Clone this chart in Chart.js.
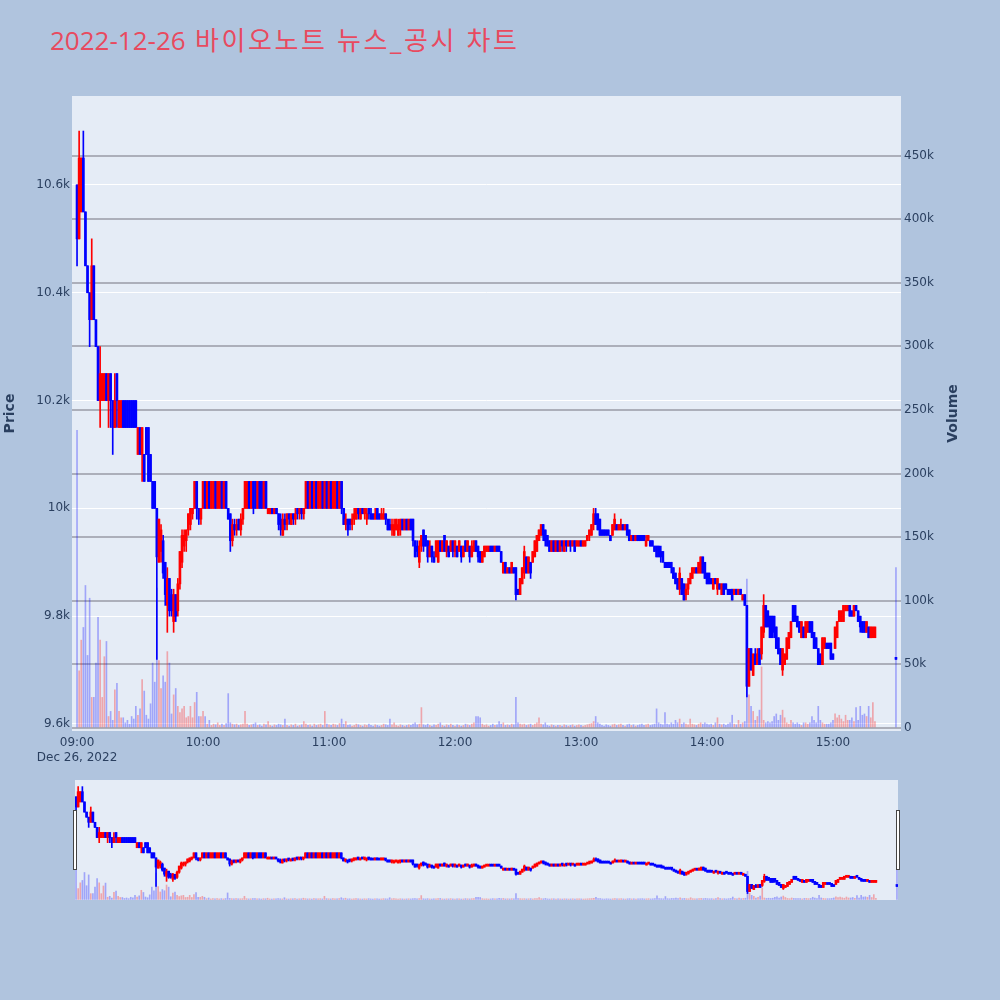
<!DOCTYPE html>
<html lang="ko">
<head>
    <meta charset="UTF-8">
    <meta name="viewport" content="width=device-width, initial-scale=1.0">
    <title>2022-12-26 바이오노트 뉴스_공시 차트</title>
    <script src="https://cdn.jsdelivr.net/npm/chart.js"></script>
    <style>
        body { margin: 0; background: #b0c4de; width: 1000px; height: 1000px; position: relative; overflow: hidden; }
        #title { position: absolute; left: 50px; top: 25px; line-height: 30px; font-size: 26px; font-family: "Open Sans", "Noto Sans CJK KR", sans-serif; color: #e84a5f; white-space: nowrap; }
        #title .ko { letter-spacing: 2.6px; }
        #main { position: absolute; left: 0; top: 0; }
        #slider { position: absolute; left: 75px; top: 780px; }
        .grab { position: absolute; top: 810px; width: 2px; height: 58px; background: #fff; border: 1px solid #444; }
    </style>
</head>
<body>
    <div id="title">2022-12-26<span class="ko"> 바이오노트 뉴스_공시 차트</span></div>
    <canvas id="main" width="1000" height="770"></canvas>
    <canvas id="slider" width="823" height="120"></canvas>
    <div class="grab" style="left:73px"></div>
    <div class="grab" style="left:896px"></div>
<script>
    // one candle per minute from 09:00, last entry is the 15:30 closing auction
    const openP = [
        10600,10500,10550,10650,10550,10450,10400,10350,10450,10350,
        10300,10200,10200,10200,10250,10200,10250,10200,10150,10250,
        10150,10150,10200,10200,10200,10200,10200,10200,10200,10100,
        10150,10100,10100,10150,10150,10100,10050,10050,10000,9900,
        9920,9940,9900,9820,9870,9840,9790,9840,9810,9860,
        9900,9930,9940,9960,9970,9990,10000,10050,10000,9980,
        10000,10050,10000,10050,10000,10000,10050,10000,10000,10050,
        10000,10050,10000,9990,9940,9970,9960,9980,9960,9980,
        10000,10000,10050,10000,10050,10050,10000,10050,10050,10000,
        10050,9990,9990,10000,9990,10000,9990,9980,9950,9980,
        9970,9990,9970,9990,9980,10000,9990,10000,9990,10000,
        10050,10000,10050,10000,10050,10000,10000,10050,10000,10050,
        10000,10050,10000,10000,10050,10000,10050,10000,9970,9980,
        9980,9970,9980,9980,10000,9980,10000,9990,9980,10000,
        9990,9990,9980,10000,9990,9980,9980,9990,9980,9970,
        9960,9950,9960,9950,9960,9980,9960,9980,9960,9980,
        9980,9940,9930,9900,9930,9960,9950,9940,9910,9930,
        9910,9910,9900,9940,9920,9950,9920,9930,9920,9940,
        9920,9930,9920,9930,9910,9940,9920,9930,9910,9920,
        9940,9930,9920,9900,9910,9920,9920,9930,9930,9920,
        9930,9930,9920,9880,9900,9880,9890,9880,9890,9890,
        9850,9840,9860,9880,9910,9880,9900,9900,9910,9920,
        9940,9950,9970,9960,9950,9940,9920,9940,9920,9940,
        9920,9940,9920,9940,9930,9940,9930,9940,9930,9930,
        9940,9930,9930,9940,9950,9950,9970,9990,9990,9980,
        9960,9960,9960,9960,9950,9950,9960,9970,9960,9960,
        9970,9960,9970,9960,9940,9950,9940,9950,9950,9950,
        9950,9930,9940,9940,9940,9930,9930,9930,9920,9920,
        9900,9900,9900,9900,9890,9880,9870,9850,9870,9860,
        9840,9850,9860,9870,9880,9890,9880,9880,9910,9900,
        9880,9880,9870,9850,9870,9850,9860,9840,9860,9860,
        9850,9850,9850,9840,9850,9840,9850,9830,9840,9820,
        9670,9740,9690,9730,9710,9740,9730,9770,9820,9810,
        9800,9800,9800,9780,9760,9740,9700,9710,9720,9740,
        9760,9820,9820,9800,9790,9760,9780,9760,9770,9790,
        9790,9770,9760,9740,9730,9710,9740,9750,9750,9750,
        9730,9740,9760,9790,9790,9790,9810,9810,9820,9810,
        9800,9820,9810,9800,9790,9790,9770,9780,9760,9760,
        9760, 9720
    ];
    const highP = [
        10600,10700,10650,10700,10550,10450,10400,10500,10450,10350,
        10300,10300,10250,10250,10250,10250,10250,10200,10250,10250,
        10200,10200,10200,10200,10200,10200,10200,10200,10200,10150,
        10150,10150,10100,10150,10150,10100,10050,10050,10000,9980,
        9970,9950,9900,9890,9870,9850,9850,9840,9870,9920,
        9960,9960,9960,9990,10000,10000,10050,10050,10000,10000,
        10050,10050,10050,10050,10050,10050,10050,10050,10050,10050,
        10050,10050,10000,9990,9980,9980,9980,9980,9990,10000,
        10050,10050,10050,10050,10050,10050,10050,10050,10050,10050,
        10050,10000,10000,10000,10000,10000,9990,9990,9990,9990,
        9990,9990,9990,9990,10000,10000,10000,10000,10000,10050,
        10050,10050,10050,10050,10050,10050,10050,10050,10050,10050,
        10050,10050,10050,10050,10050,10050,10050,10000,9990,9980,
        9980,9990,10000,10000,10000,10000,10000,10000,10000,10000,
        10000,9990,10000,10000,9990,10000,10000,9990,9980,9980,
        9980,9980,9980,9980,9980,9980,9980,9980,9980,9980,
        9980,9940,9940,9940,9950,9960,9950,9940,9940,9930,
        9920,9940,9940,9940,9940,9950,9940,9930,9940,9940,
        9940,9930,9940,9930,9930,9940,9940,9930,9940,9940,
        9940,9930,9920,9920,9930,9930,9930,9930,9930,9930,
        9930,9930,9920,9900,9900,9890,9890,9900,9890,9890,
        9850,9870,9890,9930,9910,9910,9900,9920,9940,9950,
        9960,9970,9970,9960,9950,9940,9940,9940,9940,9940,
        9940,9940,9940,9940,9940,9940,9940,9940,9940,9940,
        9940,9940,9940,9950,9960,9970,10000,10000,9990,9980,
        9960,9960,9960,9960,9950,9970,9990,9970,9970,9980,
        9970,9970,9970,9960,9950,9950,9950,9950,9950,9950,
        9950,9950,9950,9940,9940,9930,9930,9930,9930,9920,
        9900,9900,9900,9900,9890,9880,9870,9890,9870,9860,
        9860,9870,9880,9890,9890,9890,9900,9910,9910,9900,
        9880,9880,9870,9870,9870,9870,9860,9860,9860,9860,
        9850,9850,9850,9850,9850,9850,9850,9840,9840,9820,
        9740,9740,9730,9740,9740,9740,9780,9840,9820,9810,
        9800,9800,9800,9780,9760,9740,9740,9730,9760,9770,
        9790,9820,9820,9800,9790,9790,9780,9790,9790,9790,
        9790,9770,9760,9740,9730,9760,9760,9750,9750,9750,
        9730,9780,9790,9810,9810,9820,9820,9820,9820,9810,
        9820,9820,9810,9800,9790,9790,9790,9780,9780,9780,
        9780, 9720
    ];
    const lowP = [
        10450,10500,10550,10550,10450,10400,10300,10350,10350,10300,
        10200,10150,10200,10200,10200,10150,10150,10100,10150,10150,
        10150,10150,10150,10150,10150,10150,10150,10150,10150,10100,
        10100,10050,10050,10100,10050,10050,10000,10000,9720,9900,
        9900,9870,9820,9770,9800,9800,9770,9790,9800,9850,
        9890,9920,9920,9950,9960,9980,10000,9980,9970,9970,
        10000,10000,10000,10000,10000,10000,10000,10000,10000,10000,
        10000,10000,9980,9920,9930,9950,9950,9960,9950,9970,
        10000,10000,10000,10000,9990,10000,10000,10000,10000,10000,
        10000,9990,9990,9990,9990,9990,9960,9950,9950,9960,
        9960,9970,9970,9970,9970,9980,9980,9980,9980,10000,
        10000,10000,10000,10000,10000,10000,10000,10000,10000,10000,
        10000,10000,10000,10000,10000,10000,9990,9970,9960,9950,
        9960,9960,9970,9980,9980,9980,9990,9980,9970,9980,
        9980,9980,9980,9980,9980,9980,9980,9970,9960,9960,
        9950,9950,9960,9950,9950,9960,9960,9960,9960,9960,
        9930,9910,9910,9890,9920,9920,9930,9900,9910,9900,
        9900,9910,9900,9920,9920,9920,9910,9910,9920,9910,
        9910,9910,9920,9900,9910,9920,9920,9900,9910,9920,
        9920,9900,9900,9900,9910,9920,9920,9920,9920,9920,
        9920,9920,9900,9880,9880,9880,9880,9880,9880,9830,
        9840,9840,9860,9870,9880,9880,9870,9900,9910,9920,
        9940,9950,9940,9930,9930,9920,9920,9920,9920,9920,
        9920,9920,9920,9920,9930,9920,9930,9920,9930,9930,
        9930,9930,9930,9940,9940,9950,9960,9970,9960,9950,
        9950,9950,9950,9950,9940,9950,9960,9960,9960,9960,
        9960,9960,9950,9940,9940,9940,9940,9940,9940,9940,
        9940,9930,9940,9930,9930,9920,9910,9910,9900,9900,
        9890,9890,9890,9880,9870,9860,9850,9840,9840,9830,
        9830,9840,9860,9870,9880,9880,9880,9880,9880,9870,
        9860,9860,9860,9850,9860,9840,9850,9840,9840,9850,
        9840,9840,9830,9840,9840,9840,9840,9830,9820,9650,
        9670,9700,9690,9710,9710,9710,9720,9760,9780,9780,
        9760,9760,9760,9740,9730,9710,9690,9710,9720,9740,
        9760,9790,9790,9780,9770,9760,9760,9760,9770,9770,
        9760,9740,9740,9710,9710,9710,9740,9740,9740,9720,
        9720,9740,9760,9790,9790,9790,9810,9810,9800,9800,
        9800,9810,9790,9770,9770,9770,9770,9760,9760,9760,
        9760, 9720
    ];
    const closeP = [
        10500,10650,10650,10550,10450,10400,10350,10450,10350,10300,
        10200,10250,10250,10250,10200,10250,10200,10150,10200,10200,
        10200,10200,10150,10150,10150,10150,10150,10150,10150,10150,
        10100,10150,10050,10100,10050,10050,10000,10000,9910,9980,
        9960,9880,9840,9870,9810,9810,9840,9800,9860,9920,
        9950,9950,9960,9990,10000,10000,10050,10000,9980,10000,
        10050,10000,10050,10000,10050,10050,10000,10050,10050,10000,
        10050,10000,9980,9940,9970,9960,9970,9960,9980,10000,
        10050,10050,10000,10050,10000,10000,10050,10000,10000,10050,
        10000,10000,10000,9990,10000,9990,9970,9960,9980,9970,
        9990,9980,9990,9980,9990,9990,10000,9990,10000,10050,
        10000,10050,10000,10050,10000,10050,10050,10000,10050,10000,
        10050,10000,10050,10050,10000,10050,10000,9970,9980,9960,
        9970,9980,9990,10000,9990,10000,9990,10000,9990,9990,
        9980,9980,9990,9980,9980,9990,9990,9980,9960,9960,
        9970,9970,9980,9970,9980,9960,9980,9960,9980,9960,
        9940,9910,9920,9930,9950,9930,9930,9910,9930,9910,
        9900,9940,9940,9920,9940,9920,9940,9910,9940,9920,
        9940,9910,9940,9910,9930,9920,9940,9910,9930,9940,
        9920,9910,9900,9920,9930,9930,9930,9920,9920,9930,
        9920,9920,9900,9900,9880,9890,9880,9900,9880,9840,
        9840,9870,9890,9920,9880,9910,9880,9920,9940,9950,
        9960,9970,9950,9940,9930,9920,9940,9920,9940,9920,
        9940,9930,9940,9930,9940,9930,9940,9920,9940,9940,
        9930,9940,9940,9950,9960,9970,9990,9970,9960,9950,
        9950,9950,9950,9950,9940,9970,9980,9960,9970,9970,
        9960,9970,9950,9940,9950,9940,9950,9940,9940,9940,
        9940,9940,9950,9930,9930,9920,9910,9910,9910,9900,
        9890,9890,9890,9890,9870,9860,9850,9880,9840,9830,
        9850,9860,9870,9890,9890,9880,9900,9910,9880,9870,
        9860,9860,9860,9870,9860,9870,9850,9860,9840,9850,
        9840,9840,9830,9850,9840,9850,9840,9840,9820,9670,
        9740,9700,9730,9710,9730,9710,9780,9820,9780,9780,
        9760,9760,9770,9740,9730,9710,9740,9730,9760,9770,
        9790,9790,9790,9780,9770,9790,9760,9790,9790,9770,
        9760,9740,9740,9710,9710,9760,9760,9740,9740,9720,
        9720,9780,9790,9810,9810,9820,9820,9820,9800,9800,
        9820,9810,9790,9780,9770,9770,9790,9760,9780,9780,
        9780, 9720
    ];
    const volume = [
        234000,45000,69000,79000,112000,57000,102000,24000,24000,51000,
        87000,69000,24000,56000,68000,9000,13000,6000,30000,35000,
        13000,8000,8000,4000,6000,3000,9000,7000,17000,10000,
        15000,38000,29000,10000,7000,19000,51000,36000,110000,53000,
        31000,41000,36000,60000,51000,11000,26000,31000,17000,12000,
        15000,17000,8000,9000,17000,8000,20000,28000,9000,9000,
        13000,9000,3000,6000,2000,3000,2500,4000,2000,3000,
        2000,3500,27000,4000,3000,2500,3000,2000,2500,3000,
        13000,3000,2000,2500,3000,4000,2000,2500,1500,3000,
        2500,5000,2000,1500,2500,2000,3000,2500,2000,7000,
        2000,1500,2500,2000,3000,1500,2000,2500,5000,3000,
        2000,2500,1500,3000,2000,2500,3000,2000,13000,3000,
        2500,2000,3000,2500,2000,3500,7000,3000,5000,2000,
        2500,1500,2000,3000,2500,2000,1500,2500,2000,3000,
        2000,1500,2500,2000,1500,2000,3000,2500,2000,7000,
        2500,4000,2000,1500,2500,2000,1500,2000,2500,2000,
        3000,4000,2500,3000,16000,2500,2000,3000,2000,1500,
        2500,2000,3000,4000,2000,1500,2500,2000,3000,2000,
        1500,2500,2000,1500,2000,3000,2500,2000,3000,4000,
        9000,9000,8000,3000,2000,2500,1500,2000,3000,2000,
        2500,5000,3000,4000,2000,2500,2000,3000,2500,24000,
        4000,3000,2500,3000,2000,2500,3000,2000,3000,4000,
        8000,3000,2500,4000,2000,1500,2500,2000,1500,2000,
        2000,1500,2500,2000,1500,2000,2500,1500,2000,2500,
        2000,1500,2000,2500,3000,3500,5000,9000,4000,3000,
        2000,1500,2500,2000,1500,2500,3000,2000,2500,3000,
        2000,1500,2500,3000,2000,2500,1500,2000,2500,3000,
        2000,2500,3000,2000,2500,3000,15000,4000,3000,2500,
        12000,3000,2500,4000,3000,6000,4000,7000,3000,4000,
        3000,2500,7000,3000,2500,2000,3000,4000,3000,4000,
        3000,2500,3000,2000,4000,8000,3000,2500,3000,2000,
        3000,4000,10000,3000,2500,6000,3000,4000,5000,117000,
        26000,17000,13000,6000,9000,14000,48000,6000,4000,5000,
        4000,5000,9000,11000,6000,10000,14000,8000,4000,3000,
        6000,4000,3000,4000,3000,2000,4000,4000,3000,4000,
        9000,6000,4000,17000,6000,4000,3000,3000,3000,4000,
        6000,11000,8000,10000,7000,5000,10000,6000,6000,8000,
        5000,16000,6000,17000,10000,11000,9000,17000,8000,20000,
        5000, 126000
    ];

    const closingMinute = 390;
    const tickMinutes = [0, 60, 120, 180, 240, 300, 360];
    const tickLabels = ['09:00', '10:00', '11:00', '12:00', '13:00', '14:00', '15:00'];
    const dateLabel = 'Dec 26, 2022';
    const priceTicks = [9600, 9800, 10000, 10200, 10400, 10600];
    const volumeTicks = [0, 50000, 100000, 150000, 200000, 250000, 300000, 350000, 400000, 450000];

    // x position of each candle in minutes after 09:00
    const minutes = openP.map((_, i) => i < openP.length - 1 ? i : closingMinute);
    const rising = closeP.map((c, i) => c > openP[i]);
    const candleColor = rising.map(r => r ? '#ff0000' : '#0000ff');
    const volumeColor = rising.map(r => r ? 'rgba(255,0,0,0.3)' : 'rgba(0,0,255,0.3)');

    const textColor = '#2a3f5f';
    const tickFont = { family: "'DejaVu Sans', sans-serif", size: 12 };

    function datasets() {
        return [
            {
                label: 'Volume', yAxisID: 'y2', order: 3, grouped: false, barThickness: 1,
                data: minutes.map((m, i) => ({ x: m, y: volume[i] })),
                backgroundColor: volumeColor
            },
            {
                label: 'High-Low', yAxisID: 'y', order: 2, grouped: false, barThickness: 1,
                data: minutes.map((m, i) => ({ x: m, y: [lowP[i], highP[i]] })),
                backgroundColor: candleColor
            },
            {
                label: 'Open-Close', yAxisID: 'y', order: 1, grouped: false, barThickness: 2, minBarLength: 2,
                data: minutes.map((m, i) => ({ x: m, y: [openP[i], closeP[i]] })),
                backgroundColor: candleColor
            }
        ];
    }

    const plotBg = {
        id: 'plotBg',
        beforeDraw(chart) {
            const { ctx, chartArea: a } = chart;
            ctx.save();
            ctx.fillStyle = '#e5ecf6';
            ctx.fillRect(a.left, a.top, a.right - a.left, a.bottom - a.top);
            ctx.restore();
        }
    };

    // right axis title reads bottom-to-top like the reference
    const volumeTitle = {
        id: 'volumeTitle',
        afterDraw(chart) {
            const { ctx, chartArea: a } = chart;
            ctx.save();
            ctx.translate(953, (a.top + a.bottom) / 2);
            ctx.rotate(-Math.PI / 2);
            ctx.font = "bold 14px 'DejaVu Sans', sans-serif";
            ctx.fillStyle = textColor;
            ctx.textAlign = 'center';
            ctx.textBaseline = 'middle';
            ctx.fillText('Volume', 0, 0);
            ctx.restore();
        }
    };

    new Chart(document.getElementById('main'), {
        type: 'bar',
        data: { datasets: datasets() },
        plugins: [plotBg, volumeTitle],
        options: {
            responsive: false,
            animation: false,
            events: [],
            layout: { padding: { top: 96, right: 35, left: 0, bottom: 0 } },
            plugins: { legend: { display: false }, tooltip: { enabled: false } },
            scales: {
                x: {
                    type: 'linear', min: -2.4, max: 392.4, offset: false,
                    grid: { display: false, drawTicks: false }, border: { display: false },
                    afterBuildTicks: s => { s.ticks = tickMinutes.map(v => ({ value: v })); },
                    afterFit: s => { s.height = 39; },
                    ticks: {
                        color: textColor, font: tickFont, padding: 5, maxRotation: 0, autoSkip: false,
                        callback: (v, i) => i === 0 ? [tickLabels[0], dateLabel] : tickLabels[i]
                    }
                },
                y: {
                    position: 'left', min: 9587, max: 10765,
                    grid: { color: '#ffffff', drawTicks: false }, border: { display: false },
                    afterBuildTicks: s => { s.ticks = priceTicks.map(v => ({ value: v })); },
                    afterFit: s => { s.width = 72; },
                    ticks: {
                        color: textColor, font: tickFont, padding: 2,
                        callback: v => v === 10000 ? '10k' : (v / 1000) + 'k'
                    },
                    title: {
                        display: true, text: 'Price', color: textColor,
                        font: { family: "'DejaVu Sans', sans-serif", size: 14, weight: 'bold' },
                        padding: { top: 2, bottom: 0 }
                    }
                },
                y2: {
                    position: 'right', min: -2400, max: 496800,
                    grid: { color: 'rgb(172,175,186)', lineWidth: 2, drawTicks: false }, border: { display: false },
                    afterBuildTicks: s => { s.ticks = volumeTicks.map(v => ({ value: v })); },
                    afterFit: s => { s.width = 64; },
                    ticks: {
                        color: textColor, font: tickFont, padding: 3,
                        callback: v => v === 0 ? '0' : (v / 1000) + 'k'
                    }
                }
            }
        }
    });

    // range slider: whole session in miniature
    new Chart(document.getElementById('slider'), {
        type: 'bar',
        data: { datasets: datasets() },
        plugins: [plotBg],
        options: {
            responsive: false,
            animation: false,
            events: [],
            plugins: { legend: { display: false }, tooltip: { enabled: false } },
            scales: {
                x: { type: 'linear', min: -0.5, max: 390.5, offset: false, display: false },
                y: { min: 9587, max: 10765, display: false },
                y2: { min: -2400, max: 496800, display: false }
            }
        }
    });
</script>
</body>
</html>
